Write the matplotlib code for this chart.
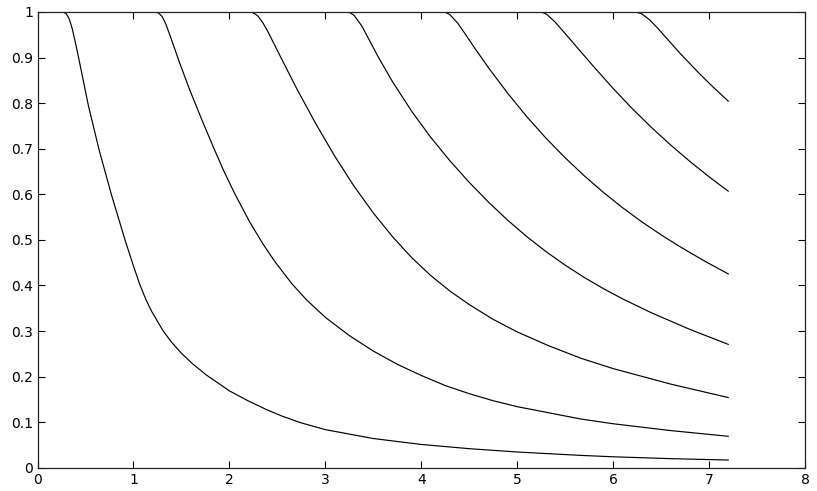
import matplotlib

matplotlib.use("Agg")
import matplotlib.pyplot as plt  # noqa: E402

# values, one (x, y) list per curve
curve1_x = [0.27, 0.30, 0.33, 0.36, 0.40, 0.435, 0.53, 0.645, 0.775, 0.915, 1.0, 1.07, 1.13,
            1.19, 1.31, 1.40, 1.50, 1.62, 1.76, 2.0, 2.2, 2.392, 2.55, 2.739, 3.0, 3.5, 4.0,
            4.5, 5.0, 5.66, 6.0, 6.6, 7.2]
curve1_y = [1.0, 0.996, 0.985, 0.965, 0.928, 0.893, 0.795, 0.695, 0.596, 0.498, 0.443, 0.400,
            0.369, 0.343, 0.300, 0.2748, 0.2513, 0.2273, 0.2035, 0.1687, 0.1463, 0.1271, 0.1132,
            0.099, 0.0836, 0.0641, 0.0511, 0.0418, 0.0345, 0.0271, 0.024, 0.0199, 0.0169]

curve2_x = [1.226, 1.26, 1.30, 1.34, 1.383, 1.483, 1.585, 1.712, 1.83, 1.936, 2.053, 2.21, 2.35,
            2.478, 2.65, 2.809, 3.0, 3.25, 3.5, 3.75, 4.0, 4.25, 4.5, 4.75, 5.0, 5.66, 6.0,
            6.6, 7.2]
curve2_y = [1.0, 0.998, 0.990, 0.972, 0.9475, 0.8875, 0.830, 0.764, 0.705, 0.654, 0.6025, 0.540,
            0.491, 0.4513, 0.404, 0.3674, 0.330, 0.290, 0.256, 0.227, 0.2025, 0.1803, 0.1625,
            0.147, 0.134, 0.107, 0.0965, 0.0815, 0.069]

curve3_x = [2.225, 2.26, 2.30, 2.35, 2.40, 2.50, 2.60, 2.70, 2.90, 3.10, 3.30, 3.50, 3.70, 3.90,
            4.10, 4.30, 4.50, 4.75, 5.00, 5.33, 5.66, 6.00, 6.60, 7.20]
curve3_y = [1.0, 0.997, 0.9906, 0.976, 0.9576, 0.9156, 0.874, 0.8326, 0.7551, 0.6831, 0.6176,
            0.5591, 0.5071, 0.4611, 0.4215, 0.3875, 0.358, 0.3255, 0.298, 0.2675, 0.2405, 0.2175,
            0.1835, 0.154]

curve4_x = [3.226, 3.26, 3.30, 3.38, 3.45, 3.55, 3.70, 3.90, 4.10, 4.30, 4.50, 4.70, 4.90, 5.10,
            5.30, 5.50, 5.70, 5.90, 6.10, 6.40, 6.80, 7.20]
curve4_y = [1.0, 0.998, 0.9926, 0.9694, 0.9417, 0.902, 0.8472, 0.7822, 0.7247, 0.6732, 0.6262,
            0.583, 0.5433, 0.5071, 0.4743, 0.4445, 0.4174, 0.3928, 0.3704, 0.3399, 0.3035, 0.2707]

curve5_x = [4.228, 4.26, 4.30, 4.38, 4.45, 4.55, 4.70, 4.90, 5.10, 5.30, 5.50, 5.70, 5.90, 6.10,
            6.30, 6.50, 6.70, 6.95, 7.20]
curve5_y = [1.0, 0.9985, 0.9939, 0.9755, 0.9543, 0.923, 0.878, 0.822, 0.7703, 0.7232, 0.6801,
            0.6404, 0.6039, 0.5703, 0.5394, 0.511, 0.4846, 0.4538, 0.4253]

curve6_x = [5.237, 5.27, 5.31, 5.40, 5.50, 5.65, 5.80, 6.00, 6.20, 6.40, 6.60, 6.80, 7.00, 7.20]
curve6_y = [1.0, 0.9985, 0.9945, 0.9769, 0.9527, 0.9159, 0.8795, 0.8323, 0.7878, 0.7466, 0.7081,
            0.6721, 0.6384, 0.6068]

curve7_x = [6.228, 6.26, 6.30, 6.38, 6.46, 6.55, 6.70, 6.90, 7.05, 7.20]
curve7_y = [1.0, 0.9985, 0.9957, 0.9829, 0.9655, 0.9441, 0.9088, 0.8646, 0.8337, 0.8044]

x_ticks = [0, 1, 2, 3, 4, 5, 6, 7, 8]
x_ticklabels = ["0", "1", "2", "3", "4", "5", "6", "7", "8"]
y_ticks = [0, 0.1, 0.2, 0.3, 0.4, 0.5, 0.6, 0.7, 0.8, 0.9, 1]
y_ticklabels = ["0", "0.1", "0.2", "0.3", "0.4", "0.5", "0.6", "0.7", "0.8", "0.9", "1"]

curves = [
    (curve1_x, curve1_y),
    (curve2_x, curve2_y),
    (curve3_x, curve3_y),
    (curve4_x, curve4_y),
    (curve5_x, curve5_y),
    (curve6_x, curve6_y),
    (curve7_x, curve7_y),
]

fig = plt.figure(figsize=(8.17, 4.91), dpi=100)
ax = fig.add_axes([0.0459, 0.0474, 0.9394, 0.9282])

for xs, ys in curves:
    ax.plot(xs, ys, color="black", lw=0.85, solid_joinstyle="round")

ax.set_xlim(0, 8)
ax.set_ylim(0, 1)
ax.set_xticks(x_ticks)
ax.set_xticklabels(x_ticklabels)
ax.set_yticks(y_ticks)
ax.set_yticklabels(y_ticklabels)
ax.tick_params(direction="in", length=5, width=0.8, top=True, right=True,
               labelsize=10, colors="black")
ax.tick_params(axis="x", pad=4)
ax.tick_params(axis="y", pad=3)
for sp in ax.spines.values():
    sp.set_linewidth(0.9)
    sp.set_color("#222222")

fig.savefig("out.png", dpi=100)
plt.close(fig)
